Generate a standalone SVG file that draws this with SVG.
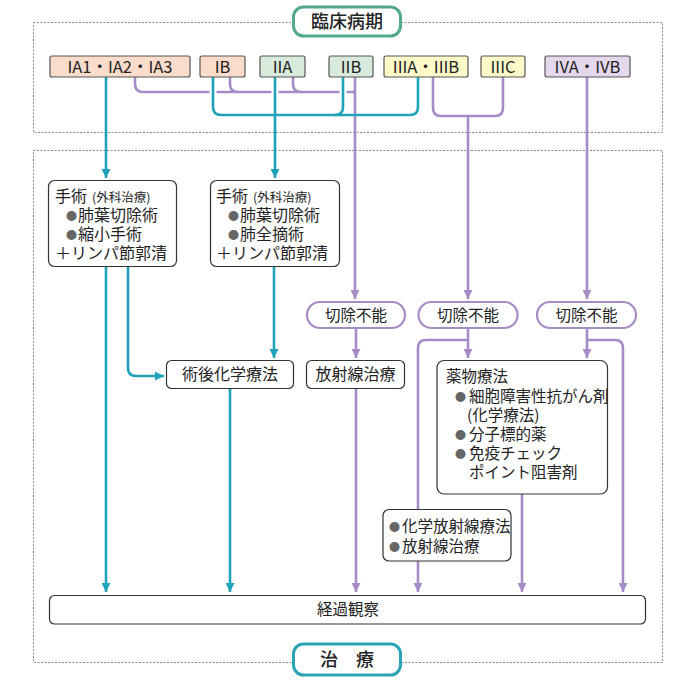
<svg xmlns="http://www.w3.org/2000/svg" width="692" height="693" viewBox="0 0 692 693">
<defs>
<marker id="at" markerUnits="userSpaceOnUse" markerWidth="11" markerHeight="9" refX="9" refY="4.5" orient="auto"><path d="M0,0 L9,4.5 L0,9 Z" fill="#1ea2b8"/></marker>
<marker id="ap" markerUnits="userSpaceOnUse" markerWidth="11" markerHeight="9" refX="9" refY="4.5" orient="auto"><path d="M0,0 L9,4.5 L0,9 Z" fill="#a68cc6"/></marker>
<style>
text{font-family:"Noto Sans CJK JP","Noto Sans",sans-serif;fill:#222;font-size:15.5px}
.frame{fill:none;stroke:#8a8a8a;stroke-width:1;stroke-dasharray:2 1.5}
.box{fill:#fff;stroke:#333;stroke-width:1.2}
.st{stroke:#555;stroke-width:1.2}
.pill{fill:#fff;stroke:#a68cc6;stroke-width:2.2}
.t{fill:none;stroke:#1ea2b8;stroke-width:2.6}
.p{fill:none;stroke:#a68cc6;stroke-width:2.6}
.halo{fill:none;stroke:#fff;stroke-width:7}
.c{text-anchor:middle}
.b{fill:#666;font-size:11px}
.sm{font-size:12.5px}
.lg{font-size:16px}
.sl{font-size:16.5px}
</style>
</defs>
<rect width="692" height="693" fill="#fff"/>
<rect class="frame" x="33.5" y="22.5" width="629" height="110"/>
<rect class="frame" x="33.5" y="150.5" width="629" height="512"/>

<g id="connectors">
<path class="p" d="M135,77 V84 Q135,92 143,92 H355"/>
<path class="p" d="M230,77 V84 Q230,92 238,92"/>
<path class="p" d="M293,77 V84 Q293,92 301,92"/>
<path class="p" d="M355,77 V299" marker-end="url(#ap)"/>
<path class="p" d="M433,77 V108 Q433,116 441,116 H495 Q503,116 503,108 V77"/>
<path class="p" d="M468,116 V299" marker-end="url(#ap)"/>
<path class="p" d="M587,77 V299" marker-end="url(#ap)"/>
<path class="halo" d="M213,80 V104"/>
<path class="halo" d="M275,80 V104"/>
<path class="halo" d="M343,80 V104"/>
<path class="t" d="M106,77 V178" marker-end="url(#at)"/>
<path class="t" d="M275,77 V178" marker-end="url(#at)"/>
<path class="t" d="M213,77 V107 Q213,115 221,115 H410 Q418,115 418,107 V77"/>
<path class="t" d="M343,77 V107 Q343,115 335,115"/>
<path class="t" d="M106,267 V592" marker-end="url(#at)"/>
<path class="t" d="M128,267 V368 Q128,376 136,376 H164" marker-end="url(#at)"/>
<path class="t" d="M274,267 V358" marker-end="url(#at)"/>
<path class="t" d="M230,388 V592" marker-end="url(#at)"/>
<path class="p" d="M356,328 V358" marker-end="url(#ap)"/>
<path class="p" d="M356,389 V592" marker-end="url(#ap)"/>
<path class="p" d="M468,328 V358" marker-end="url(#ap)"/>
<path class="p" d="M468,340 H426 Q418,340 418,348 V592" marker-end="url(#ap)"/>
<path class="p" d="M587,328 V358" marker-end="url(#ap)"/>
<path class="p" d="M587,340 H615 Q623,340 623,348 V592" marker-end="url(#ap)"/>
<path class="p" d="M522,494 V592" marker-end="url(#ap)"/>
</g>

<g id="title-stage">
<rect x="293.5" y="7" width="107" height="29" rx="10" fill="#fff" stroke="#52a98a" stroke-width="3"/>
<text class="c" x="347" y="27.5" style="font-size:18px;font-weight:500">臨床病期</text>
</g>
<g id="s-ia"><rect class="st" x="50" y="56" width="140" height="21" rx="2" fill="#fbdccb"/><text class="c sl" x="120" y="72.5">IA1・IA2・IA3</text></g>
<g id="s-ib"><rect class="st" x="200" y="56" width="45" height="21" rx="2" fill="#fbdccb"/><text class="c sl" x="222.5" y="72.5">IB</text></g>
<g id="s-iia"><rect class="st" x="260" y="56" width="45" height="21" rx="2" fill="#d8eadb"/><text class="c sl" x="282.5" y="72.5">IIA</text></g>
<g id="s-iib"><rect class="st" x="329" y="56" width="44" height="21" rx="2" fill="#d8eadb"/><text class="c sl" x="351" y="72.5">IIB</text></g>
<g id="s-iii"><rect class="st" x="384" y="56" width="84" height="21" rx="2" fill="#fdf9c8"/><text class="c sl" x="426" y="72.5">IIIA・IIIB</text></g>
<g id="s-iiic"><rect class="st" x="481" y="56" width="44" height="21" rx="2" fill="#fdf9c8"/><text class="c sl" x="503" y="72.5">IIIC</text></g>
<g id="s-iv"><rect class="st" x="545" y="56" width="85" height="21" rx="2" fill="#e5d8ec"/><text class="c sl" x="587.5" y="72.5">IVA・IVB</text></g>

<g id="surgery1">
<rect class="box" x="48.5" y="180.5" width="128" height="86" rx="6"/>
<text class="lg" x="55" y="202">手術<tspan class="sm" dx="5">(外科治療)</tspan></text>
<text class="b" x="66" y="220">●</text><text class="lg" x="78" y="221">肺葉切除術</text>
<text class="b" x="66" y="239">●</text><text class="lg" x="78" y="240">縮小手術</text>
<text class="lg" x="55" y="259">＋リンパ節郭清</text>
</g>
<g id="surgery2">
<rect class="box" x="210.5" y="180.5" width="129" height="86" rx="6"/>
<text class="lg" x="216" y="202">手術<tspan class="sm" dx="5">(外科治療)</tspan></text>
<text class="b" x="228" y="220">●</text><text class="lg" x="240" y="221">肺葉切除術</text>
<text class="b" x="228" y="239">●</text><text class="lg" x="240" y="240">肺全摘術</text>
<text class="lg" x="216" y="259">＋リンパ節郭清</text>
</g>
<g id="adjuvant"><rect class="box" x="166.5" y="360.5" width="127" height="28" rx="5"/><text class="c lg" x="230" y="380">術後化学療法</text></g>
<g id="unres1"><rect class="pill" x="307" y="302" width="98" height="26" rx="13"/><text class="c" x="356" y="320.5">切除不能</text></g>
<g id="unres2"><rect class="pill" x="418.5" y="302" width="99" height="26" rx="13"/><text class="c" x="468" y="320.5">切除不能</text></g>
<g id="unres3"><rect class="pill" x="537" y="302" width="99" height="26" rx="13"/><text class="c" x="586.5" y="320.5">切除不能</text></g>
<g id="radio"><rect class="box" x="306.5" y="360.5" width="98" height="28" rx="5"/><text class="c lg" x="355.5" y="380">放射線治療</text></g>
<g id="drug">
<rect class="box" x="437" y="360.5" width="170.5" height="133.5" rx="7"/>
<text x="446" y="382">薬物療法</text>
<text class="b" x="455" y="401">●</text><text x="469" y="402">細胞障害性抗がん剤</text>
<text x="467" y="421">(化学療法)</text>
<text class="b" x="455" y="439">●</text><text x="469" y="440">分子標的薬</text>
<text class="b" x="455" y="458">●</text><text x="469" y="459">免疫チェック</text>
<text x="469" y="478">ポイント阻害剤</text>
</g>
<g id="chemorad">
<rect class="box" x="383" y="509.5" width="128" height="51.5" rx="6"/>
<text class="b" x="389" y="531">●</text><text x="402" y="532">化学放射線療法</text>
<text class="b" x="389" y="551">●</text><text x="402" y="552">放射線治療</text>
</g>
<g id="followup"><rect class="box" x="49.5" y="595.5" width="596" height="28.5" rx="5"/><text class="c" x="348" y="615">経過観察</text></g>
<g id="title-treat">
<rect x="293.5" y="644" width="107" height="31" rx="10" fill="#fff" stroke="#2aa3b6" stroke-width="3"/>
<text class="c" x="347" y="665.5" style="font-size:18px;font-weight:500">治　療</text>
</g>
</svg>
